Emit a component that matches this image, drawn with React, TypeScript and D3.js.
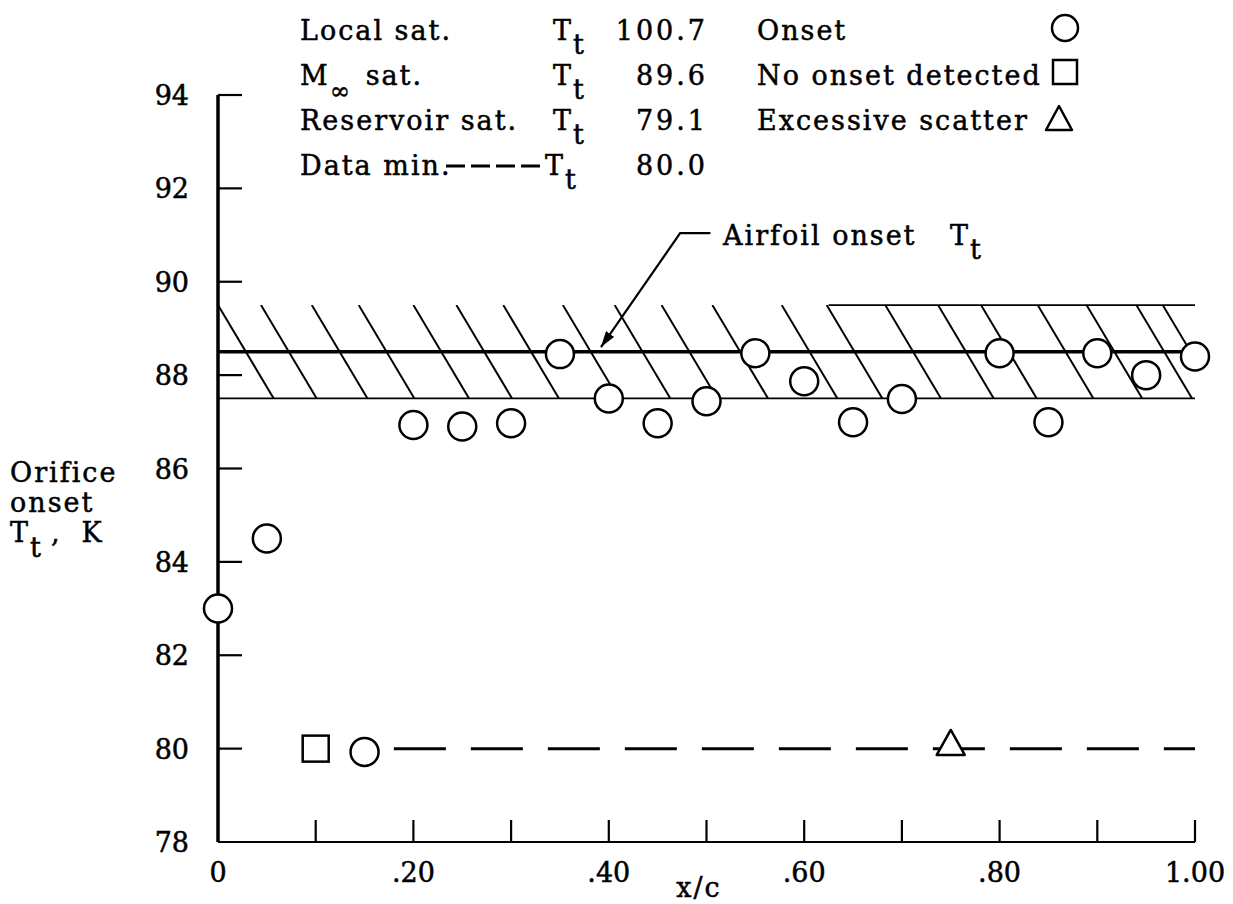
import React from 'react';
import * as d3 from 'd3';

// orifice onset points (circles)
const onsetX = [0, 0.05, 0.15, 0.2, 0.25, 0.3, 0.35, 0.4, 0.45, 0.5, 0.55, 0.6, 0.65, 0.7, 0.8, 0.85, 0.9, 0.95, 1.0];
const onsetT = [83.0, 84.5, 79.93, 86.93, 86.9, 86.97, 88.45, 87.5, 86.97, 87.44, 88.47, 87.87, 86.99, 87.49, 88.47, 86.99, 88.47, 88.0, 88.4];
// no onset detected (square) and excessive scatter (triangle)
const noOnsetX = [0.1];
const noOnsetT = [80.0];
const scatterX = [0.75];
const scatterT = [80.1];

const dataMinT = 80.0;
const dataMinFrom = 0.18;
const airfoilOnsetT = 88.5;
const bandLow = 87.5;
const bandHigh = 89.5;
const bandTopFrom = 0.625;
const hatchStarts = [0, 0.044, 0.096, 0.144, 0.2, 0.244, 0.292, 0.353, 0.406, 0.454, 0.506, 0.577, 0.623, 0.683, 0.737, 0.781, 0.839, 0.889, 0.94, 0.967];
const hatchRun = 0.057;

const yTicks = [80, 82, 84, 86, 88, 90, 92, 94];
const yLabels = [78, 80, 82, 84, 86, 88, 90, 92, 94];
const xTicks = [0.1, 0.2, 0.3, 0.4, 0.5, 0.6, 0.7, 0.8, 0.9, 1.0];
const xLabelValues = [0, 0.2, 0.4, 0.6, 0.8, 1.0];
const xLabelTexts = ['0', '.20', '.40', '.60', '.80', '1.00'];

const satNames = ['Local sat.', 'M', 'Reservoir sat.', 'Data min.'];
const satValues = ['100.7', '89.6', '79.1', '80.0'];
const symbolNames = ['Onset', 'No onset detected', 'Excessive scatter'];

// leader for "Airfoil onset" note, in data units
const leaderX = [0.504, 0.473, 0.392];
const leaderT = [91.04, 91.04, 88.6];

const FONT = '"DejaVu Serif", serif';

const App = () => {
  const width = 1233;
  const height = 904;
  const x = d3.scaleLinear().domain([0, 1]).range([218, 1195]);
  const y = d3.scaleLinear().domain([78, 94]).range([842, 95]);

  const ink = { fill: '#000', stroke: '#000', strokeWidth: 0.5 } as const;
  const txt = { fontFamily: FONT, fontSize: 27, letterSpacing: 2, ...ink } as const;
  const num = { fontFamily: FONT, fontSize: 27, ...ink } as const;
  const legNum = { fontFamily: FONT, fontSize: 27, letterSpacing: 3, ...ink } as const;

  const leader = d3.line<number>()
    .x((d, i) => x(leaderX[i]))
    .y((d, i) => y(leaderT[i]));

  const rowY = [40, 85, 130, 175];
  const tX = [553, 553, 553, 545];
  const symY = [28, 72, 120];

  return (
    <svg width={width} height={height} style={{ position: 'absolute', left: 0, top: 0, background: '#fff' }}>
      <defs>
        <clipPath id="band">
          <rect x={x(0)} y={y(bandHigh)} width={x(1) - x(0)} height={y(bandLow) - y(bandHigh)} />
        </clipPath>
        <marker id="arrow" viewBox="0 0 10 10" refX="10" refY="5" markerWidth="16" markerHeight="10" orient="auto" markerUnits="userSpaceOnUse" preserveAspectRatio="none">
          <path d="M0,0 L10,5 L0,10 z" fill="#000" />
        </marker>
      </defs>

      {/* hatched band */}
      <g clipPath="url(#band)">
        {hatchStarts.map((s, i) => (
          <line key={i} x1={x(s)} y1={y(bandHigh)} x2={x(s + hatchRun)} y2={y(bandLow)} stroke="#000" strokeWidth={2} />
        ))}
      </g>
      <line x1={x(0)} x2={x(1)} y1={y(bandLow)} y2={y(bandLow)} stroke="#000" strokeWidth={1.8} />
      <line x1={x(bandTopFrom)} x2={x(1)} y1={y(bandHigh)} y2={y(bandHigh)} stroke="#000" strokeWidth={1.8} />
      <line x1={x(0)} x2={x(1)} y1={y(airfoilOnsetT)} y2={y(airfoilOnsetT)} stroke="#000" strokeWidth={3.5} />

      {/* data min dashed line */}
      <line x1={x(dataMinFrom)} x2={x(1)} y1={y(dataMinT)} y2={y(dataMinT)} stroke="#000" strokeWidth={3} strokeDasharray="52 25" />

      {/* axes */}
      <line x1={x(0)} x2={x(0)} y1={y(94)} y2={y(78)} stroke="#000" strokeWidth={3.5} />
      <line x1={x(0)} x2={x(1)} y1={y(78)} y2={y(78)} stroke="#000" strokeWidth={2} />
      {yTicks.map((t) => (
        <line key={t} x1={x(0)} x2={x(0) + 24} y1={y(t)} y2={y(t)} stroke="#000" strokeWidth={2.2} />
      ))}
      {xTicks.map((t) => (
        <line key={t} x1={x(t)} x2={x(t)} y1={y(78)} y2={y(78) - 22} stroke="#000" strokeWidth={2.2} />
      ))}
      {yLabels.map((t) => (
        <text key={t} x={189} y={y(t) + 10} textAnchor="end" {...num}>{t}</text>
      ))}
      {xLabelValues.map((v, i) => (
        <text key={v} x={x(v)} y={882} textAnchor="middle" {...num}>{xLabelTexts[i]}</text>
      ))}
      <text x={699} y={897} textAnchor="middle" {...txt}>x/c</text>

      {/* y axis title */}
      <text x={10} y={482} {...txt}>Orifice</text>
      <text x={10} y={512} {...txt}>onset</text>
      <text x={10} y={542} {...txt}>T<tspan dy={15}>t</tspan><tspan dy={-15} dx={8}>,</tspan><tspan dx={20}>K</tspan></text>

      {/* markers */}
      {onsetX.map((v, i) => (
        <circle key={i} cx={x(v)} cy={y(onsetT[i])} r={14} fill="#fff" stroke="#000" strokeWidth={2.5} />
      ))}
      {noOnsetX.map((v, i) => (
        <rect key={i} x={x(v) - 13} y={y(noOnsetT[i]) - 13} width={26} height={26} fill="#fff" stroke="#000" strokeWidth={2.5} />
      ))}
      {scatterX.map((v, i) => {
        const cx = x(v);
        const cy = y(scatterT[i]);
        return <path key={i} d={`M${cx},${cy - 14} L${cx + 14},${cy + 11} L${cx - 14},${cy + 11} Z`} fill="#fff" stroke="#000" strokeWidth={2.5} strokeLinejoin="round" />;
      })}

      {/* airfoil onset note */}
      <path d={leader(leaderX) || ''} fill="none" stroke="#000" strokeWidth={2.2} markerEnd="url(#arrow)" />
      <text x={723} y={245} {...txt}>Airfoil onset</text>
      <text x={950} y={245} {...txt}>T<tspan dy={14}>t</tspan></text>

      {/* saturation table */}
      {satNames.map((n, i) => (
        <g key={n}>
          {i === 1 ? (
            <text x={300} y={rowY[i]} {...txt}>M<tspan dy={14} fontSize={24}>∞</tspan><tspan dy={-14} dx={14}>sat.</tspan></text>
          ) : (
            <text x={300} y={rowY[i]} {...txt}>{n}</text>
          )}
          <text x={tX[i]} y={rowY[i]} {...txt}>T<tspan dy={14}>t</tspan></text>
          <text x={708} y={rowY[i]} textAnchor="end" {...legNum}>{satValues[i]}</text>
        </g>
      ))}
      <line x1={446} x2={542} y1={rowY[3] - 9} y2={rowY[3] - 9} stroke="#000" strokeWidth={3} strokeDasharray="19 6" />

      {/* symbol key */}
      {symbolNames.map((n, i) => (
        <text key={n} x={757} y={rowY[i]} {...txt}>{n}</text>
      ))}
      <circle cx={1065} cy={symY[0]} r={13} fill="#fff" stroke="#000" strokeWidth={2.5} />
      <rect x={1053} y={symY[1] - 12} width={24} height={24} fill="#fff" stroke="#000" strokeWidth={2.5} />
      <path d={`M1059,${symY[2] - 14} L1072,${symY[2] + 10} L1046,${symY[2] + 10} Z`} fill="#fff" stroke="#000" strokeWidth={2.5} strokeLinejoin="round" />
    </svg>
  );
};

export default App;
